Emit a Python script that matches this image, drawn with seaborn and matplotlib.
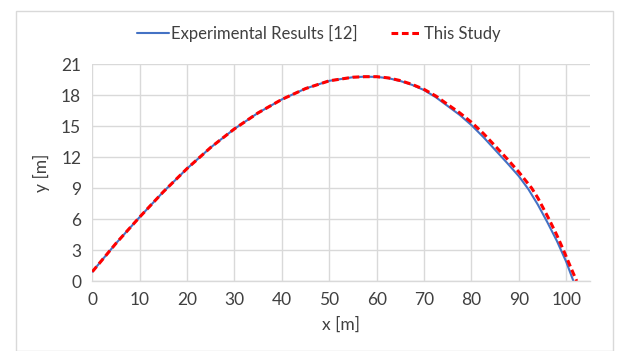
import matplotlib
matplotlib.use("Agg")
import matplotlib.pyplot as plt
import matplotlib.patches as patches
import seaborn as sns

exp_x = [0, 5, 10, 15, 20, 25, 30, 35, 40, 45, 50, 55, 57.5, 60, 62.5, 65,
         67.5, 70, 72.5, 75, 77.5, 80, 82.5, 85, 87.5, 90, 92, 94, 96, 98,
         100, 101.5]
exp_y = [0.9, 3.65, 6.2, 8.65, 10.9, 12.95, 14.75, 16.3, 17.6, 18.65, 19.4,
         19.75, 19.8, 19.78, 19.65, 19.38, 19.0, 18.5, 17.8, 16.95, 16.1,
         15.1, 13.95, 12.7, 11.45, 10.15, 8.9, 7.4, 5.7, 3.9, 1.85, 0.0]

study_x = [0, 5, 10, 15, 20, 25, 30, 35, 40, 45, 50, 55, 57.5, 60, 62.5, 65,
           67.5, 70, 72.5, 75, 77.5, 80, 82.5, 85, 87.5, 90, 92.7, 94, 96.35,
           98, 99.4, 101, 102.2]
study_y = [0.9, 3.65, 6.2, 8.65, 10.9, 12.95, 14.75, 16.3, 17.6, 18.65, 19.4,
           19.75, 19.8, 19.8, 19.68, 19.42, 19.05, 18.57, 17.92, 17.1, 16.3,
           15.38, 14.3, 13.08, 11.85, 10.55, 9.0, 8.05, 6.0, 4.45, 3.0, 1.25,
           0.0]

x_ticks = [0, 10, 20, 30, 40, 50, 60, 70, 80, 90, 100]
y_ticks = [0, 3, 6, 9, 12, 15, 18, 21]

sns.set_style("white")
plt.rcParams['font.family'] = ['Lato', 'DejaVu Sans']

fig = plt.figure(figsize=(6.17, 3.51), dpi=100)
ax = fig.add_axes([0.1496, 0.1994, 0.9562 - 0.1496, 0.8168 - 0.1994])

grid_col = "#d9d9d9"
text_col = "#404040"

sns.lineplot(x=exp_x, y=exp_y, ax=ax, color="#4472C4", linewidth=1.5,
             sort=False, estimator=None, label="Experimental Results [12]")
sns.lineplot(x=study_x, y=study_y, ax=ax, color="#FF0000", linewidth=2.2,
             linestyle=(0, (2.2, 1.2)), sort=False, estimator=None,
             label="This Study")

ax.set_xlim(0, 105)
ax.set_ylim(0, 21)
ax.set_xticks(x_ticks)
ax.set_yticks(y_ticks)
ax.grid(True, color=grid_col, linewidth=1)
ax.set_axisbelow(True)
for side in ["top", "right", "left"]:
    ax.spines[side].set_visible(False)
ax.spines["bottom"].set_color(grid_col)
ax.spines["bottom"].set_linewidth(1)
ax.tick_params(axis="both", length=0, labelsize=12.5, labelcolor=text_col, pad=8)

ax.set_xlabel("x [m]", fontsize=12.5, color=text_col, labelpad=6)
ax.set_ylabel("y [m]", fontsize=12.5, color=text_col, labelpad=8)

handles, labels = ax.get_legend_handles_labels()
ax.legend_.remove()
fig.legend(handles, labels, loc="center", ncol=2, frameon=False,
           bbox_to_anchor=(319 / 617, 1 - 33 / 351), fontsize=12,
           handlelength=1.9, handletextpad=0.1, columnspacing=2.0,
           labelcolor=text_col)

# chart border like the spreadsheet frame
fig.patches.append(patches.Rectangle((15.5 / 617, 0.0), (613 - 15.5) / 617,
                                     1 - 11 / 351, transform=fig.transFigure,
                                     fill=False, edgecolor=grid_col, linewidth=1))

fig.savefig("out.png", dpi=100)
